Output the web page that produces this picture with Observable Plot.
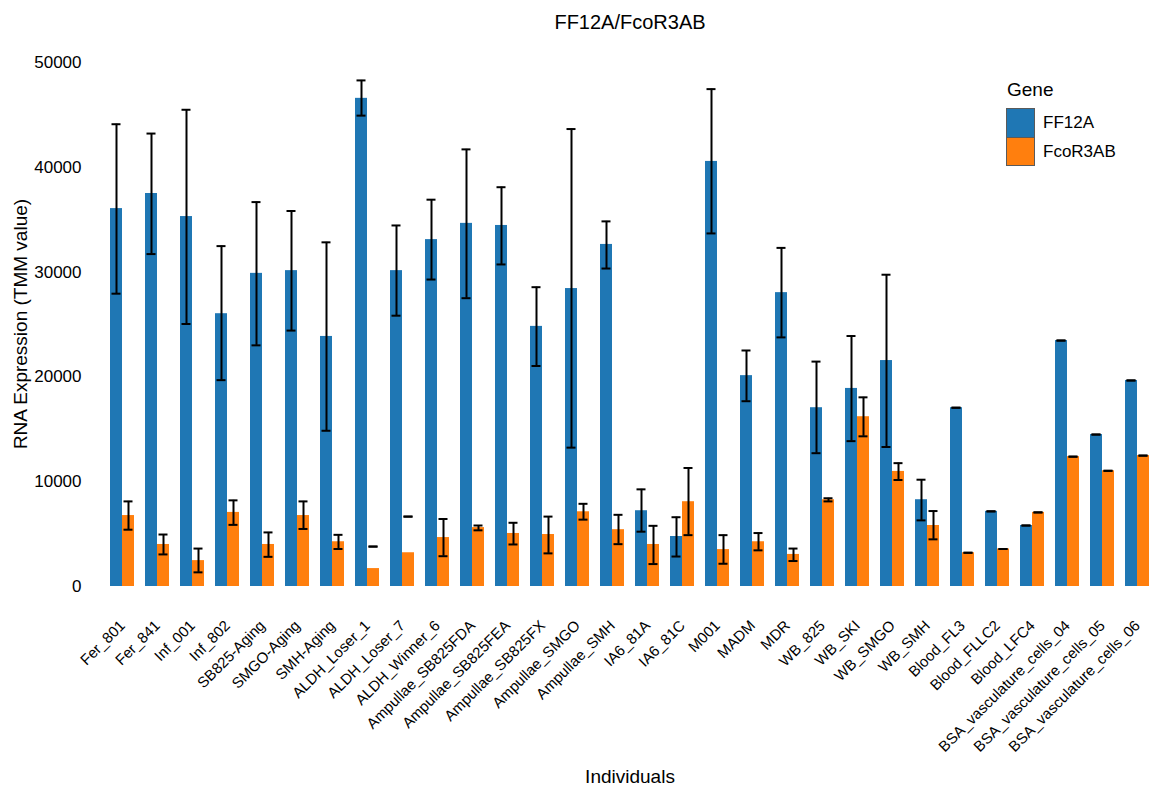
<!DOCTYPE html>
<html>
<head>
<meta charset="utf-8">
<script src="https://cdn.jsdelivr.net/npm/d3@7"></script>
<script src="https://cdn.jsdelivr.net/npm/@observablehq/plot@0.6"></script>
<style>
  body { margin: 0; background: #fff; font-family: "Liberation Sans", Arial, sans-serif; }
  #wrap { position: relative; width: 1162px; height: 789px; overflow: hidden; }
  .t { position: absolute; white-space: nowrap; color: #000; line-height: 1; }
  .legend-box { position: absolute; border: 1.5px solid #5a5a5a; box-sizing: border-box; }
</style>
</head>
<body>
<div id="wrap"></div>
<script>
// Individuals (x categories)
const individuals = [
  "Fer_801", "Fer_841", "Inf_001", "Inf_802", "SB825-Aging", "SMGO-Aging", "SMH-Aging",
  "ALDH_Loser_1", "ALDH_Loser_7", "ALDH_Winner_6", "Ampullae_SB825FDA", "Ampullae_SB825FEA",
  "Ampullae_SB825FX", "Ampullae_SMGO", "Ampullae_SMH", "IA6_81A", "IA6_81C", "M001", "MADM",
  "MDR", "WB_825", "WB_SKI", "WB_SMGO", "WB_SMH", "Blood_FL3", "Blood_FLLC2", "Blood_LFC4",
  "BSA_vasculature_cells_04", "BSA_vasculature_cells_05", "BSA_vasculature_cells_06"
];

const genes = ["FF12A", "FcoR3AB"];
const geneColors = ["#1f77b4", "#ff7f0e"];

// FF12A: mean TMM value and error bar ends
const ff12aMean = [36060, 37500, 35300, 26030, 29880, 30140, 23860, 46580, 30140, 33100,
  34650, 34450, 24820, 28430, 32640, 7230, 4770, 40560, 20120, 28040,
  17060, 18900, 21560, 8280, 17060, 7170, 5820, 23470, 14500, 19660];
const ff12aLow = [27940, 31720, 25050, 19690, 23010, 24420, 14860, 44930, 25840, 29290,
  27510, 30730, 21040, 13250, 30340, 5230, 2860, 33690, 17680, 23770,
  12720, 13870, 13310, 6310, 17060, 7170, 5820, 23470, 14500, 19660];
const ff12aHigh = [44110, 43220, 45490, 32480, 36680, 35830, 32840, 48290, 34450, 36910,
  41710, 38100, 28560, 43650, 34840, 9270, 6610, 47460, 22520, 32310,
  21460, 23900, 29750, 10190, 17060, 7170, 5820, 23470, 14500, 19660];

// FcoR3AB: mean TMM value and error bar ends
const fcorMean = [6770, 4010, 2470, 7070, 4010, 6770, 4270, 1710, 3220, 4670,
  5620, 5060, 4960, 7130, 5420, 4010, 8090, 3520, 4270, 3060,
  8280, 16200, 10980, 5820, 3220, 3580, 7070, 12390, 11040, 12490];
const fcorLow = [5420, 3060, 1350, 5880, 2830, 5490, 3580, 3810, 6670, 2890,
  5360, 4010, 3160, 6380, 4040, 2140, 4900, 2170, 3450, 2430,
  8120, 14330, 10160, 4500, 3220, 3580, 7070, 12390, 11040, 12490];
const fcorHigh = [8120, 4960, 3620, 8220, 5160, 8120, 4930, 3810, 6670, 6440,
  5820, 6080, 6670, 7890, 6840, 5790, 11310, 4900, 5100, 3620,
  8420, 18050, 11770, 7200, 3220, 3580, 7070, 12390, 11040, 12490];

const yTicks = [0, 10000, 20000, 30000, 40000, 50000];

const rows = [];
individuals.forEach((ind, i) => {
  rows.push({ind, gene: genes[0], mean: ff12aMean[i], low: ff12aLow[i], high: ff12aHigh[i]});
  rows.push({ind, gene: genes[1], mean: fcorMean[i], low: fcorLow[i], high: fcorHigh[i]});
});

const errStyle = {fx: "ind", x: "gene", stroke: "#000", strokeWidth: 2};

const chart = Plot.plot({
  width: 1162,
  height: 789,
  marginTop: 62,
  marginBottom: 203,
  marginLeft: 98,
  marginRight: 1,
  style: {fontFamily: "'Liberation Sans', Arial, sans-serif", color: "#000", background: "#fff"},
  fx: {domain: individuals, paddingInner: 0.273, paddingOuter: 0, axis: null, label: null},
  x: {domain: genes, padding: 0, axis: null},
  y: {domain: [0, 50000], axis: null},
  color: {domain: genes, range: geneColors},
  marks: [
    Plot.barY(rows, {fx: "ind", x: "gene", y: "mean", fill: "gene"}),
    Plot.ruleX(rows, {...errStyle, y1: "low", y2: "high"}),
    Plot.tickY(rows, {...errStyle, y: "low", insetLeft: 1.5, insetRight: 1.5}),
    Plot.tickY(rows, {...errStyle, y: "high", insetLeft: 1.5, insetRight: 1.5}),
    Plot.axisY({ticks: yTicks, tickSize: 0, tickPadding: 28, tickFormat: d3.format("d"), fontSize: 17, label: null}),
    Plot.text(individuals, {
      fx: d => d, text: d => d, frameAnchor: "bottom",
      rotate: -45, textAnchor: "end", lineAnchor: "bottom",
      dx: 4, dy: 40, fontSize: 15, fill: "#000"
    })
  ]
});

const wrap = document.getElementById("wrap");
wrap.appendChild(chart);

function addText(txt, css) {
  const d = document.createElement("div");
  d.className = "t";
  d.textContent = txt;
  Object.assign(d.style, css);
  wrap.appendChild(d);
  return d;
}

// Title and axis titles
addText("FF12A/FcoR3AB", {left: "630px", top: "22px", fontSize: "20px", transform: "translate(-50%, -50%)"});
addText("RNA Expression (TMM value)", {left: "20px", top: "324px", fontSize: "19px", transform: "translate(-50%, -50%) rotate(-90deg)"});
addText("Individuals", {left: "630px", top: "776px", fontSize: "19px", transform: "translate(-50%, -50%)"});

// Legend
addText("Gene", {left: "1007px", top: "89px", fontSize: "19px", transform: "translateY(-50%)"});
const box = document.createElement("div");
box.className = "legend-box";
Object.assign(box.style, {left: "1006px", top: "108px", width: "29px", height: "58px"});
genes.forEach((g, i) => {
  const sw = document.createElement("div");
  Object.assign(sw.style, {height: "50%", background: geneColors[i], borderTop: i ? "1px solid #5a5a5a" : "none", boxSizing: "border-box"});
  box.appendChild(sw);
  addText(g, {left: "1043px", top: (122 + i * 29) + "px", fontSize: "17px", transform: "translateY(-50%)"});
});
wrap.appendChild(box);
</script>
</body>
</html>
